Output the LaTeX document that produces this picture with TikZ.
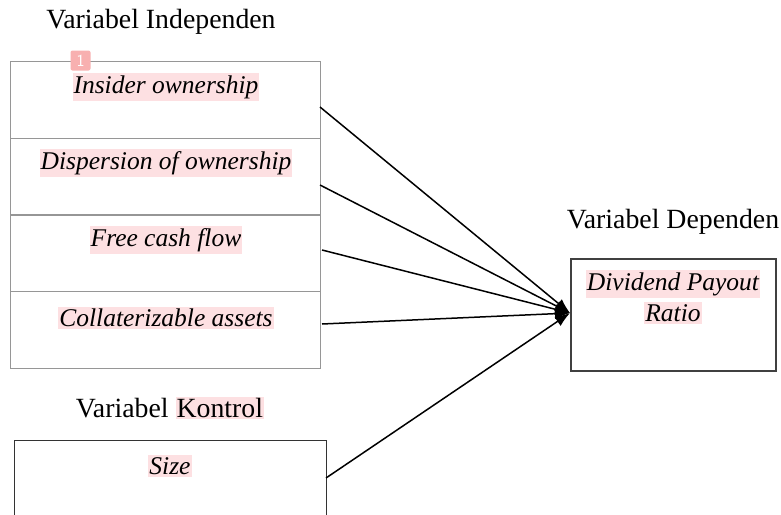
\documentclass[tikz,border=0pt]{standalone}
\usepackage{fontspec}
\setmainfont{Liberation Serif}
\usetikzlibrary{arrows.meta}
\definecolor{hlpink}{RGB}{253,224,226}
\definecolor{badgepink}{RGB}{248,176,176}
\definecolor{boxgray}{RGB}{150,150,150}
\newcommand{\hlbox}[1]{{\setlength{\fboxsep}{1pt}\colorbox{hlpink}{#1}}}
\tikzset{
  title/.style={font=\fontsize{27.8}{31}\selectfont, inner sep=0pt},
  vartext/.style={font=\fontsize{25.5}{29}\selectfont\itshape, fill=hlpink, inner xsep=1pt, inner ysep=2pt},
  stackbox/.style={draw=boxgray, line width=1pt, minimum width=310pt, minimum height=76.5pt, inner sep=0pt},
  conn/.style={line width=1.5pt, -{Latex[length=15pt,width=11pt]}}
}
\begin{document}
\begin{tikzpicture}[x=1pt,y=-1pt]
\useasboundingbox (0,0) rectangle (781,514);
% titles
\node[title] (tind) at (161,22) {Variabel Independen};
\node[title] (tkon) at (170,408) {Variabel \hlbox{Kontrol}};
\node[title] (tdep) at (673,222) {Variabel Dependen};
% stacked boxes
\node[stackbox] (b1) at (165,100) {};
\node[stackbox] (b2) at (165,176.5) {};
\node[stackbox] (b3) at (165,253.5) {};
\node[stackbox] (b4) at (165,330) {};
\node[vartext] (x1) at (166,87) {Insider ownership};
\node[vartext] (x2) at (166,163) {Dispersion of ownership};
\node[vartext] (x3) at (166,240) {Free cash flow};
\node[vartext] (x4) at (166,318) {Collaterizable assets};
% badge
\node[fill=badgepink, rounded corners=2pt, minimum width=20pt, minimum height=20pt, inner sep=0pt, text=white, font=\fontsize{17}{18}\sffamily] (badge) at (80.5,60.5) {1};
% size box (cut at bottom)
\draw[line width=1pt, black!80] (14,516) -- (14,440) -- (326,440) -- (326,516);
\node[vartext] (xs) at (170,466) {Size};
% dependent box
\node[draw=black!75, line width=1.3pt, minimum width=205pt, minimum height=112pt, inner sep=0pt] (dep) at (673.5,315) {};
\node[vartext] (y1) at (673,284) {Dividend Payout};
\node[vartext] (y2) at (673,313) {Ratio};
% connector end points
\coordinate (s1) at (320,107);
\coordinate (s2) at (320,185);
\coordinate (s3) at (322,250);
\coordinate (s4) at (322,324);
\coordinate (s5) at (326,478);
\coordinate (tgt) at (570,313);
\draw[conn] (s1) -- (tgt);
\draw[conn] (s2) -- (tgt);
\draw[conn] (s3) -- (tgt);
\draw[conn] (s4) -- (tgt);
\draw[conn] (s5) -- (tgt);
\end{tikzpicture}
\end{document}
